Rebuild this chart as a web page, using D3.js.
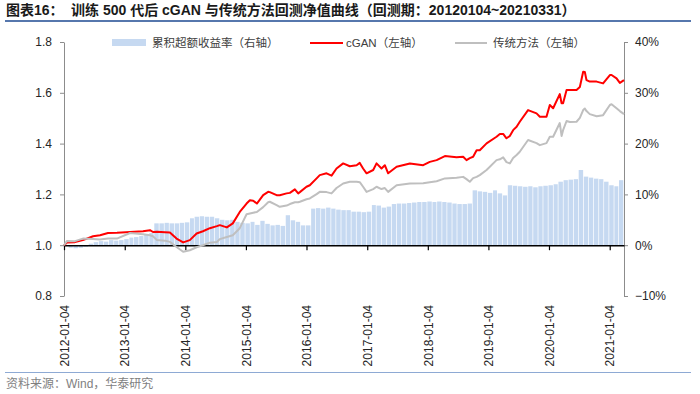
<!DOCTYPE html>
<html>
<head>
<meta charset="utf-8">
<title>cGAN 回测净值曲线</title>
<script src="https://d3js.org/d3.v7.min.js"></script>
<style>
    body { margin: 0; background: #fff; }
    svg { display: block; font-family: "Liberation Sans", Arial, "Noto Sans CJK SC", sans-serif; }
</style>
</head>
<body>
<svg></svg>
<script>
// 净值曲线采样日期
const navDates = [
    '2012-01-04','2012-01-22','2012-03-10','2012-04-27','2012-06-27','2012-08-08','2012-09-25','2012-11-18',
    '2013-02-05','2013-04-24','2013-06-05','2013-06-23','2013-07-17','2013-09-03','2013-10-03','2013-11-12','2013-12-22',
    '2014-01-31','2014-03-13','2014-04-20','2014-06-01','2014-07-13','2014-07-31','2014-09-11','2014-10-17','2014-11-28',
    '2015-01-08','2015-01-28','2015-02-17','2015-03-11','2015-04-18','2015-05-18','2015-05-28','2015-07-08','2015-07-27',
    '2015-09-06','2015-09-26','2015-10-26','2015-11-15','2015-11-25',
    '2016-01-04','2016-01-24','2016-03-05','2016-03-24','2016-05-04','2016-06-03','2016-07-03','2016-08-12','2016-09-21',
    '2016-11-01','2016-11-20','2016-12-10','2016-12-31',
    '2017-02-09','2017-03-01','2017-03-31','2017-04-20','2017-05-10','2017-06-30','2017-09-18','2017-12-07',
    '2018-01-16','2018-02-26','2018-04-17','2018-06-26','2018-08-05','2018-08-25','2018-09-14','2018-10-04','2018-10-25',
    '2018-11-13','2018-12-24',
    '2019-02-22','2019-03-14','2019-04-03','2019-04-23','2019-05-13','2019-06-02','2019-06-23','2019-07-12','2019-08-31',
    '2019-10-21','2019-11-10','2019-12-20',
    '2020-01-09','2020-01-29','2020-03-09','2020-03-20','2020-03-29','2020-04-19','2020-05-09','2020-06-18','2020-07-08',
    '2020-07-28','2020-08-07','2020-08-17','2020-09-06','2020-10-17','2020-11-25',
    '2021-01-05','2021-01-15','2021-02-14','2021-03-06','2021-03-31'
];

// cGAN 净值（左轴）
const cganNav = [
    1.000,1.011,1.012,1.020,1.035,1.039,1.048,1.049,
    1.052,1.055,1.059,1.052,1.053,1.051,1.050,1.026,1.011,
    1.020,1.046,1.055,1.067,1.075,1.079,1.070,1.086,1.131,
    1.164,1.177,1.175,1.164,1.197,1.210,1.209,1.197,1.197,
    1.204,1.206,1.220,1.204,1.209,
    1.230,1.236,1.263,1.276,1.283,1.274,1.302,1.322,1.311,
    1.315,1.324,1.302,1.283,
    1.296,1.322,1.302,1.315,1.283,1.309,1.322,1.315,
    1.328,1.335,1.351,1.346,1.348,1.335,1.343,1.348,1.374,
    1.374,1.401,
    1.427,1.438,1.438,1.421,1.430,1.453,1.466,1.486,1.532,
    1.519,1.506,1.506,
    1.552,1.539,1.595,1.559,1.559,1.611,1.611,1.611,1.623,
    1.683,1.682,1.650,1.644,1.644,1.637,
    1.670,1.670,1.657,1.639,1.650
];

// 传统方法净值（左轴）
const tradNav = [
    1.000,1.017,1.016,1.026,1.024,1.022,1.026,1.026,
    1.048,1.043,1.039,1.035,1.020,1.018,1.013,0.993,0.974,
    0.980,0.992,1.000,1.010,1.013,1.024,1.032,1.039,1.067,
    1.122,1.125,1.128,1.131,1.150,1.169,1.171,1.158,1.151,
    1.156,1.162,1.169,1.169,1.171,
    1.181,1.184,1.201,1.210,1.209,1.204,1.225,1.243,1.250,
    1.250,1.248,1.230,1.210,
    1.221,1.230,1.221,1.225,1.210,1.236,1.243,1.244,
    1.248,1.252,1.263,1.266,1.269,1.260,1.250,1.264,1.269,
    1.276,1.296,
    1.335,1.338,1.346,1.327,1.322,1.343,1.355,1.368,1.414,
    1.402,1.394,1.402,
    1.427,1.427,1.481,1.430,1.453,1.489,1.485,1.486,1.501,
    1.532,1.538,1.528,1.516,1.508,1.512,
    1.552,1.555,1.539,1.528,1.516
];

// 累积超额收益率（右轴），按月，2012-01 起
const excessStart = '2012-01-01';
const excessReturn = [
    0.000,-0.005,-0.006,-0.005,-0.003,0.003,0.006,0.008,0.007,0.010,0.009,0.010,
    0.012,0.015,0.016,0.018,0.020,0.024,0.043,0.043,0.044,0.043,0.043,0.044,
    0.045,0.053,0.056,0.057,0.056,0.056,0.053,0.050,0.049,0.050,0.046,0.044,
    0.043,0.046,0.040,0.048,0.042,0.039,0.040,0.038,0.059,0.049,0.046,0.039,
    0.039,0.072,0.073,0.072,0.074,0.072,0.070,0.069,0.069,0.066,0.066,0.065,
    0.066,0.079,0.078,0.074,0.076,0.081,0.082,0.082,0.083,0.084,0.085,0.085,
    0.086,0.085,0.086,0.085,0.084,0.082,0.081,0.081,0.082,0.108,0.106,0.105,
    0.103,0.108,0.102,0.098,0.118,0.117,0.116,0.115,0.116,0.114,0.116,0.117,
    0.118,0.120,0.125,0.128,0.129,0.130,0.148,0.135,0.133,0.131,0.130,0.125,
    0.118,0.116,0.128
];

const xTicks = ['2012-01-04','2013-01-04','2014-01-04','2015-01-04','2016-01-04',
    '2017-01-04','2018-01-04','2019-01-04','2020-01-04','2021-01-04'];
const leftTicks = [0.8, 1.0, 1.2, 1.4, 1.6, 1.8];
const rightTicks = [-0.10, 0, 0.10, 0.20, 0.30, 0.40];

const width = 700;
const height = 394;
const parse = d3.utcParse('%Y-%m-%d');

const svg = d3.select('svg').attr('width', width).attr('height', height);

// 标题
svg.append('text').attr('x', 6).attr('y', 15)
    .attr('font-size', 14).attr('font-weight', 'bold').attr('fill', '#1a1a1a')
    .text('图表16：');
svg.append('text').attr('x', 71).attr('y', 15)
    .attr('font-size', 14).attr('font-weight', 'bold').attr('fill', '#1a1a1a')
    .text('训练 500 代后 cGAN 与传统方法回测净值曲线（回测期：20120104~20210331）');
svg.append('line').attr('x1', 5).attr('x2', 691).attr('y1', 21).attr('y2', 21)
    .attr('stroke', '#5677ad').attr('stroke-width', 2);

// 比例尺
const x = d3.scaleUtc().domain([parse('2012-01-04'), parse('2021-03-31')]).range([64, 624]);
const yL = d3.scaleLinear().domain([0.8, 1.8]).range([296, 42]);
const yR = d3.scaleLinear().domain([-0.10, 0.40]).range([296, 42]);

// 柱状：累积超额收益率
const months = d3.utcMonth.range(parse(excessStart), d3.utcMonth.offset(parse(excessStart), excessReturn.length));
const bars = excessReturn.map((v, i) => {
    const s = d3.max([months[i], x.domain()[0]]);
    const e = d3.min([d3.utcMonth.offset(months[i], 1), x.domain()[1]]);
    return {s: s, e: e, v: v};
});

svg.append('g').selectAll('rect').data(bars).enter().append('rect')
    .attr('x', d => x(d.s))
    .attr('width', d => Math.max(0.5, x(d.e) - x(d.s) - 0.7))
    .attr('y', d => Math.min(yR(d.v), yR(0)))
    .attr('height', d => Math.abs(yR(d.v) - yR(0)))
    .attr('fill', '#c6d9f1');

// 左轴
const leftAxis = svg.append('g').attr('transform', 'translate(64,0)')
    .call(d3.axisLeft(yL).tickValues(leftTicks).tickFormat(d3.format('.1f')).tickSize(4).tickSizeOuter(0).tickPadding(8));
leftAxis.select('.domain').attr('stroke', '#8c8c8c');
leftAxis.selectAll('.tick line').attr('stroke', '#8c8c8c');
leftAxis.selectAll('.tick text').attr('font-size', 12).attr('fill', '#262626')
    .attr('font-family', '"Liberation Sans", Arial, sans-serif');

// 右轴
const rightAxis = svg.append('g').attr('transform', 'translate(624,0)')
    .call(d3.axisRight(yR).tickValues(rightTicks).tickFormat(d3.format('.0%')).tickSize(4).tickSizeOuter(0).tickPadding(7));
rightAxis.select('.domain').attr('stroke', '#8c8c8c');
rightAxis.selectAll('.tick line').attr('stroke', '#8c8c8c');
rightAxis.selectAll('.tick text').attr('font-size', 12).attr('fill', '#262626')
    .attr('font-family', '"Liberation Sans", Arial, sans-serif');

// 横轴（位于 1.0 / 0%）
const xAxis = svg.append('g').attr('transform', 'translate(0,' + yL(1.0) + ')')
    .call(d3.axisBottom(x).tickValues(xTicks.map(parse)).tickFormat(d3.utcFormat('%Y-%m-%d')).tickSize(5).tickSizeOuter(0));
xAxis.select('.domain').attr('stroke', '#000').attr('stroke-width', 1.6);
xAxis.selectAll('.tick line').attr('stroke', '#000').attr('stroke-width', 1.2);
xAxis.selectAll('.tick text')
    .attr('font-size', 12).attr('fill', '#262626')
    .attr('font-family', '"Liberation Sans", Arial, sans-serif')
    .attr('text-anchor', 'end')
    .attr('transform', 'rotate(-90)')
    .attr('x', -(305 - yL(1.0)))
    .attr('y', 0)
    .attr('dy', '0.35em');

// 净值曲线
const navData = navDates.map((d, i) => ({date: parse(d), cgan: cganNav[i], trad: tradNav[i]}));

svg.append('path').datum(navData)
    .attr('fill', 'none').attr('stroke', '#ff0000').attr('stroke-width', 2).attr('stroke-linejoin', 'round')
    .attr('d', d3.line().x(d => x(d.date)).y(d => yL(d.cgan)));

svg.append('path').datum(navData)
    .attr('fill', 'none').attr('stroke', '#bfbfbf').attr('stroke-width', 2).attr('stroke-linejoin', 'round')
    .attr('d', d3.line().x(d => x(d.date)).y(d => yL(d.trad)));

// 图例
const legend = svg.append('g').attr('font-size', 11.5).attr('fill', '#404040');
legend.append('rect').attr('x', 112).attr('y', 39).attr('width', 34).attr('height', 7).attr('fill', '#c6d9f1');
legend.append('text').attr('x', 152).attr('y', 43).attr('dy', '0.35em').text('累积超额收益率（右轴）');
legend.append('line').attr('x1', 310).attr('x2', 343).attr('y1', 43).attr('y2', 43)
    .attr('stroke', '#ff0000').attr('stroke-width', 2);
legend.append('text').attr('x', 346).attr('y', 43).attr('dy', '0.35em').text('cGAN（左轴）');
legend.append('line').attr('x1', 455).attr('x2', 487).attr('y1', 43).attr('y2', 43)
    .attr('stroke', '#bfbfbf').attr('stroke-width', 2);
legend.append('text').attr('x', 493).attr('y', 43).attr('dy', '0.35em').text('传统方法（左轴）');

// 底部来源
svg.append('line').attr('x1', 5).attr('x2', 691).attr('y1', 372.5).attr('y2', 372.5)
    .attr('stroke', '#8eaad4').attr('stroke-width', 1.2);
svg.append('text').attr('x', 6).attr('y', 388).attr('font-size', 12).attr('fill', '#7f7f7f')
    .text('资料来源：Wind，华泰研究');
</script>
</body>
</html>
